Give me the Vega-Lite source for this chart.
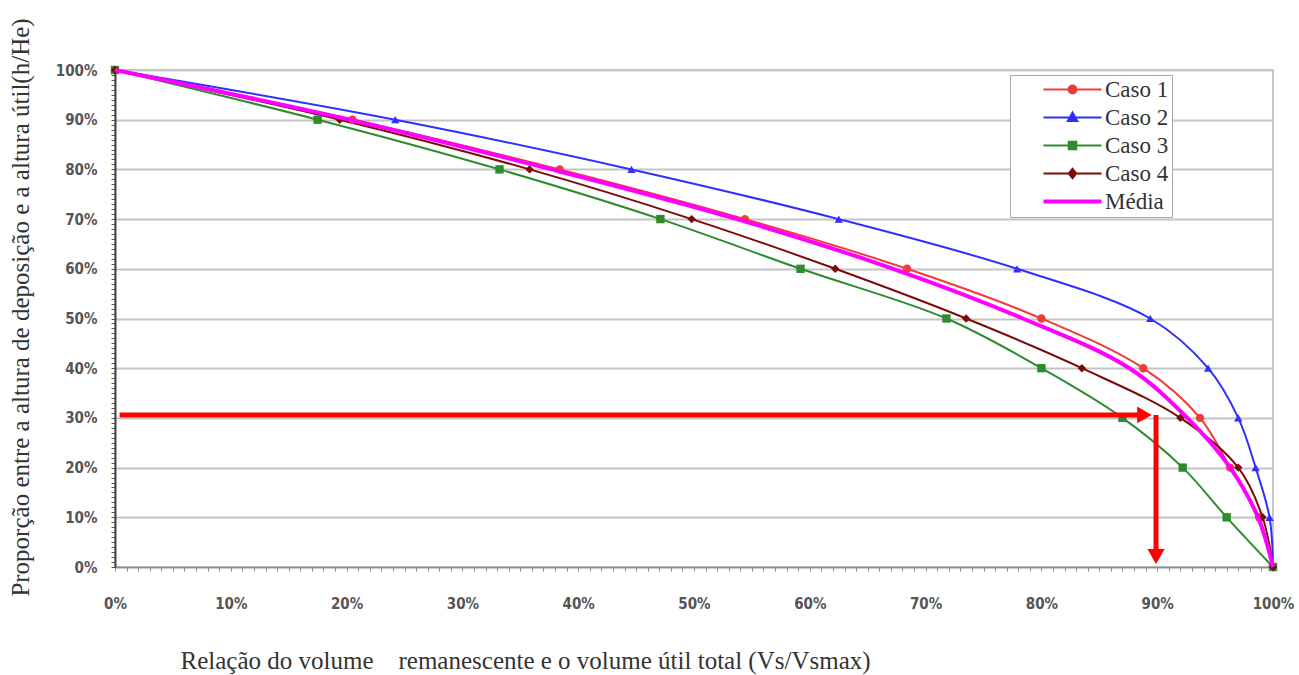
{
  "$schema": "https://vega.github.io/schema/vega-lite/v6.json",
  "width": 1158,
  "height": 497,
  "autosize": {"type": "none"},
  "padding": {"left": 115, "top": 70, "right": 26, "bottom": 108},
  "background": "white",
  "config": {
    "view": {"stroke": "#b4b4b4", "strokeWidth": 1.5}
  },
  "datasets": {
    "curves": [
      {"s": "Caso 1", "x": 0, "y": 1}, {"s": "Caso 1", "x": 0.205, "y": 0.9}, {"s": "Caso 1", "x": 0.384, "y": 0.8}, {"s": "Caso 1", "x": 0.544, "y": 0.7}, {"s": "Caso 1", "x": 0.684, "y": 0.6}, {"s": "Caso 1", "x": 0.8, "y": 0.5}, {"s": "Caso 1", "x": 0.888, "y": 0.4}, {"s": "Caso 1", "x": 0.937, "y": 0.3}, {"s": "Caso 1", "x": 0.963, "y": 0.2}, {"s": "Caso 1", "x": 0.988, "y": 0.1}, {"s": "Caso 1", "x": 1, "y": 0},
      {"s": "Caso 2", "x": 0, "y": 1}, {"s": "Caso 2", "x": 0.242, "y": 0.9}, {"s": "Caso 2", "x": 0.446, "y": 0.8}, {"s": "Caso 2", "x": 0.625, "y": 0.7}, {"s": "Caso 2", "x": 0.779, "y": 0.6}, {"s": "Caso 2", "x": 0.894, "y": 0.5}, {"s": "Caso 2", "x": 0.944, "y": 0.4}, {"s": "Caso 2", "x": 0.970, "y": 0.3}, {"s": "Caso 2", "x": 0.985, "y": 0.2}, {"s": "Caso 2", "x": 0.997, "y": 0.1}, {"s": "Caso 2", "x": 1, "y": 0},
      {"s": "Caso 3", "x": 0, "y": 1}, {"s": "Caso 3", "x": 0.175, "y": 0.9}, {"s": "Caso 3", "x": 0.332, "y": 0.8}, {"s": "Caso 3", "x": 0.471, "y": 0.7}, {"s": "Caso 3", "x": 0.592, "y": 0.6}, {"s": "Caso 3", "x": 0.718, "y": 0.5}, {"s": "Caso 3", "x": 0.8, "y": 0.4}, {"s": "Caso 3", "x": 0.87, "y": 0.3}, {"s": "Caso 3", "x": 0.922, "y": 0.2}, {"s": "Caso 3", "x": 0.96, "y": 0.1}, {"s": "Caso 3", "x": 1, "y": 0},
      {"s": "Caso 4", "x": 0, "y": 1}, {"s": "Caso 4", "x": 0.194, "y": 0.9}, {"s": "Caso 4", "x": 0.358, "y": 0.8}, {"s": "Caso 4", "x": 0.498, "y": 0.7}, {"s": "Caso 4", "x": 0.622, "y": 0.6}, {"s": "Caso 4", "x": 0.735, "y": 0.5}, {"s": "Caso 4", "x": 0.835, "y": 0.4}, {"s": "Caso 4", "x": 0.92, "y": 0.3}, {"s": "Caso 4", "x": 0.97, "y": 0.2}, {"s": "Caso 4", "x": 0.991, "y": 0.1}, {"s": "Caso 4", "x": 1, "y": 0},
      {"s": "Média", "x": 0, "y": 1}, {"s": "Média", "x": 0.203, "y": 0.9}, {"s": "Média", "x": 0.377, "y": 0.8}, {"s": "Média", "x": 0.537, "y": 0.7}, {"s": "Média", "x": 0.672, "y": 0.6}, {"s": "Média", "x": 0.784, "y": 0.5}, {"s": "Média", "x": 0.876, "y": 0.4}, {"s": "Média", "x": 0.926, "y": 0.3}, {"s": "Média", "x": 0.963, "y": 0.2}, {"s": "Média", "x": 0.987, "y": 0.1}, {"s": "Média", "x": 1, "y": 0}
    ],
    "arrows": [
      {"part": "h", "x": 0.004, "y": 0.306, "x2": 0.884, "y2": 0.306},
      {"part": "v", "x": 0.899, "y": 0.306, "x2": 0.899, "y2": 0.03}
    ],
    "headH": [{"x": 0.889, "y": 0.306}],
    "headV": [{"x": 0.899, "y": 0.021}]
  },
  "layer": [
    {
      "data": {"name": "curves"},
      "transform": [{"filter": "datum.s !== 'Média'"}],
      "mark": {"type": "line", "interpolate": "catmull-rom", "strokeWidth": 2},
      "encoding": {
        "x": {
          "field": "x", "type": "quantitative",
          "scale": {"domain": [0, 1], "nice": false, "zero": false},
          "axis": {
            "tickCount": 100, "format": ".0%",
            "labelExpr": "round(datum.value*100) % 10 === 0 ? datum.label : ''",
            "labelOverlap": false, "labelFlush": false, "grid": false,
            "tickSize": 4, "tickColor": "#8c8c8c", "tickWidth": 1,
            "domainColor": "#8c8c8c", "domainWidth": 1.5,
            "labelFont": "Liberation Sans Narrow, DejaVu Sans Condensed, sans-serif",
            "labelFontSize": 15, "labelFontWeight": "bold", "labelColor": "#555555",
            "labelPadding": 25,
            "title": "Relação do volume\u00a0\u00a0\u00a0 remanescente e o volume útil total (Vs/Vsmax)",
            "titleFont": "Liberation Serif", "titleFontSize": 25, "titleFontWeight": "normal",
            "titleColor": "#333333", "titleAnchor": "start", "titleAlign": "left",
            "titleBaseline": "alphabetic", "titleX": 65, "titleY": 101
          }
        },
        "y": {
          "field": "y", "type": "quantitative",
          "scale": {"domain": [0, 1], "nice": false, "zero": false},
          "axis": {
            "tickCount": 100, "format": ".0%",
            "labelExpr": "round(datum.value*100) % 10 === 0 ? datum.label : ''",
            "labelOverlap": false, "labelFlush": false,
            "grid": true, "gridColor": "#c4c4c4", "gridWidth": 2,
            "gridOpacity": {"condition": {"test": "round(datum.value*100) % 10 === 0", "value": 1}, "value": 0},
            "tickSize": 4, "tickColor": "#555555", "tickWidth": 1,
            "domainColor": "#444444", "domainWidth": 2,
            "labelFont": "Liberation Sans Narrow, DejaVu Sans Condensed, sans-serif",
            "labelFontSize": 15, "labelFontWeight": "bold", "labelColor": "#555555",
            "labelPadding": 14,
            "title": "Proporção entre a altura de deposição e a altura útil(h/He)",
            "titleFont": "Liberation Serif", "titleFontSize": 25, "titleFontWeight": "normal",
            "titleColor": "#333333", "titleAngle": 270, "titleAlign": "center",
            "titleBaseline": "middle", "titleX": -95, "titleY": 237
          }
        },
        "color": {
          "field": "s", "type": "nominal",
          "scale": {"domain": ["Caso 1", "Caso 2", "Caso 3", "Caso 4", "Média"], "range": ["#f23a3a", "#2f2fff", "#2e8b2e", "#7d0a0a", "#ff00ff"]},
          "legend": {
            "title": null, "orient": "none", "legendX": 895, "legendY": 5,
            "padding": 3, "strokeColor": "#a8a8a8", "fillColor": "white",
            "symbolSize": 100, "symbolOffset": 48, "labelOffset": 21, "rowPadding": 4,
            "labelFont": "Liberation Serif", "labelFontSize": 23, "labelColor": "#333333",
            "labelExpr": "datum.label + '\u00a0\u00a0\u00a0\u00a0\u00a0\u00a0\u00a0\u00a0'",
            "encode": {
              "symbols": {
                "update": {
                  "shape": {"signal": "datum.value === 'Caso 1' ? 'M-5.8,0H5.8M-0.8,0A0.8,0.8,0,1,1,0.8,0A0.8,0.8,0,1,1,-0.8,0Z' : datum.value === 'Caso 2' ? 'M-5.8,0H5.8M0,-1L0.95,0.7L-0.95,0.7Z' : datum.value === 'Caso 3' ? 'M-5.8,0H5.8M-0.75,-0.75H0.75V0.75H-0.75Z' : datum.value === 'Caso 4' ? 'M-5.8,0H5.8M0,-0.95L0.75,0L0,0.95L-0.75,0Z' : 'M-5.8,0H5.8'"},
                  "fill": {"scale": "color", "field": "value"},
                  "stroke": {"scale": "color", "field": "value"},
                  "strokeWidth": {"signal": "datum.value === 'Média' ? 4 : 2"},
                  "opacity": {"value": 1}
                }
              }
            }
          }
        }
      }
    },
    {
      "data": {"name": "curves"},
      "transform": [{"filter": "datum.s !== 'Média'"}],
      "mark": {"type": "point", "filled": true, "size": 70, "opacity": 1},
      "encoding": {
        "x": {"field": "x", "type": "quantitative"},
        "y": {"field": "y", "type": "quantitative"},
        "color": {"field": "s", "type": "nominal", "legend": null},
        "shape": {
          "field": "s", "type": "nominal",
          "scale": {"domain": ["Caso 1", "Caso 2", "Caso 3", "Caso 4"], "range": ["circle", "triangle-up", "square", "diamond"]},
          "legend": null
        }
      }
    },
    {
      "data": {"name": "curves"},
      "transform": [{"filter": "datum.s === 'Média'"}],
      "mark": {"type": "line", "interpolate": "catmull-rom", "strokeWidth": 4},
      "encoding": {
        "x": {"field": "x", "type": "quantitative"},
        "y": {"field": "y", "type": "quantitative"},
        "color": {"field": "s", "type": "nominal", "legend": null}
      }
    },
    {
      "data": {"name": "arrows"},
      "mark": {"type": "rule", "color": "#ff0000", "strokeWidth": 5},
      "encoding": {
        "x": {"field": "x", "type": "quantitative"},
        "y": {"field": "y", "type": "quantitative"},
        "x2": {"field": "x2"},
        "y2": {"field": "y2"}
      }
    },
    {
      "data": {"name": "headH"},
      "mark": {"type": "point", "shape": "triangle-right", "filled": true, "color": "#ff0000", "size": 280, "opacity": 1},
      "encoding": {
        "x": {"field": "x", "type": "quantitative"},
        "y": {"field": "y", "type": "quantitative"}
      }
    },
    {
      "data": {"name": "headV"},
      "mark": {"type": "point", "shape": "triangle-down", "filled": true, "color": "#ff0000", "size": 300, "opacity": 1},
      "encoding": {
        "x": {"field": "x", "type": "quantitative"},
        "y": {"field": "y", "type": "quantitative"}
      }
    }
  ]
}
